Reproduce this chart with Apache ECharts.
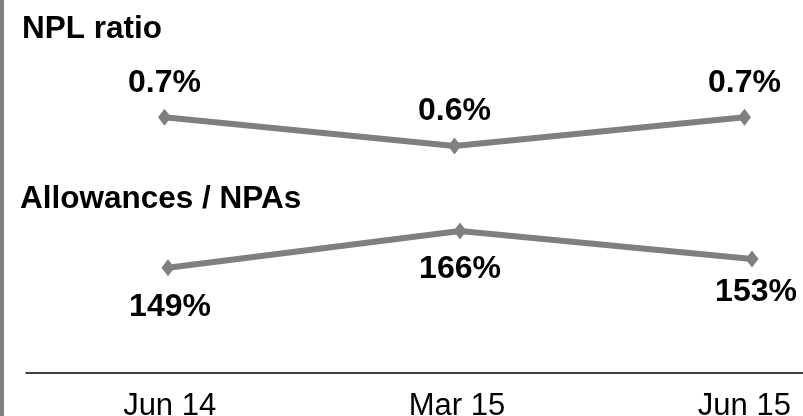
<!DOCTYPE html>
<html>
<head>
<meta charset="utf-8">
<script src="https://cdn.jsdelivr.net/npm/echarts@6/dist/echarts.min.js"></script>
<style>
  html, body { margin: 0; padding: 0; background: #fff; }
  #chart { width: 803px; height: 416px; }
</style>
</head>
<body>
<div id="chart"></div>
<script>
const periods = ['Jun 14', 'Mar 15', 'Jun 15'];
const nplRatio = [0.7, 0.6, 0.7];
const allowancesToNpas = [149, 166, 153];

const gray = '#7f7f7f';
const font = 'Liberation Sans, Arial, sans-serif';

const chart = echarts.init(document.getElementById('chart'));

const lineStyleBase = {
  type: 'line',
  symbol: 'diamond',
  symbolSize: [13, 17],
  lineStyle: { color: gray, width: 6 },
  itemStyle: { color: gray },
  animation: false
};

// grids are wider than the canvas on purpose, the right edge is cut off like in the source slide
const gridBase = { outerBoundsMode: 'none', containLabel: false };

chart.setOption({
  backgroundColor: '#fff',
  title: [
    {
      text: 'NPL ratio',
      left: 17,
      top: 8,
      textStyle: { fontFamily: font, fontSize: 31.5, fontWeight: 'bold', color: '#000' }
    },
    {
      text: 'Allowances / NPAs',
      left: 15,
      top: 178,
      textStyle: { fontFamily: font, fontSize: 31.5, fontWeight: 'bold', color: '#000' }
    }
  ],
  graphic: [
    {
      type: 'rect',
      left: 0,
      top: 0,
      shape: { width: 4, height: 416 },
      style: { fill: '#808080' }
    }
  ],
  grid: [
    Object.assign({ left: 19.5, width: 870, top: 88.5, bottom: 241.25 }, gridBase),
    Object.assign({ left: 22, width: 876, top: 201, bottom: 43 }, gridBase),
    Object.assign({ left: 26, width: 862, top: 201, bottom: 43 }, gridBase)
  ],
  xAxis: [
    { type: 'category', gridIndex: 0, data: periods, show: false },
    { type: 'category', gridIndex: 1, data: periods, show: false },
    {
      type: 'category',
      gridIndex: 2,
      data: periods,
      axisLine: { lineStyle: { color: '#000', width: 1.5 } },
      axisTick: { show: false },
      axisLabel: {
        color: '#000',
        fontFamily: font,
        fontSize: 31,
        margin: 18
      }
    }
  ],
  yAxis: [
    { type: 'value', gridIndex: 0, min: 0.5, max: 0.8, show: false },
    { type: 'value', gridIndex: 1, min: 100, max: 180, show: false },
    { type: 'value', gridIndex: 2, min: 0, max: 1, show: false }
  ],
  series: [
    Object.assign({}, lineStyleBase, {
      name: 'NPL ratio',
      xAxisIndex: 0,
      yAxisIndex: 0,
      data: nplRatio,
      label: {
        show: true,
        position: 'top',
        distance: 10,
        formatter: (p) => p.value.toFixed(1) + '%',
        color: '#000',
        fontFamily: font,
        fontSize: 32,
        fontWeight: 'bold'
      }
    }),
    Object.assign({}, lineStyleBase, {
      name: 'Allowances / NPAs',
      xAxisIndex: 1,
      yAxisIndex: 1,
      data: allowancesToNpas.map((v, i) => {
        if (i === 2) {
          return { value: v, label: { distance: 9, offset: [4, 0] } };
        }
        if (i === 0) {
          return { value: v, label: { distance: 15, offset: [2, 0] } };
        }
        return v;
      }),
      label: {
        show: true,
        position: 'bottom',
        distance: 14,
        formatter: (p) => p.value + '%',
        color: '#000',
        fontFamily: font,
        fontSize: 32,
        fontWeight: 'bold'
      }
    })
  ]
});
</script>
</body>
</html>
